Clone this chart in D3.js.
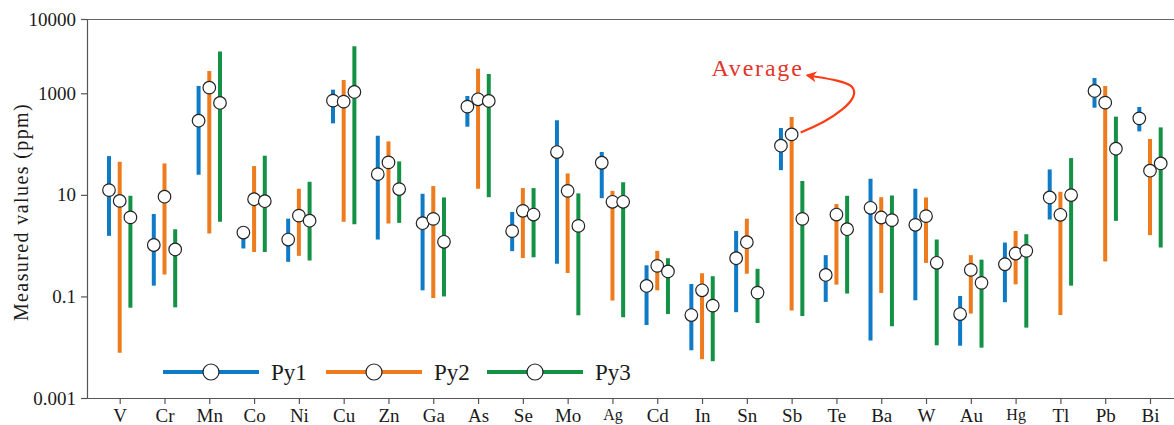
<!DOCTYPE html>
<html>
<head>
<meta charset="utf-8">
<script src="https://cdn.jsdelivr.net/npm/d3@7"></script>
<style>
  body { margin: 0; background: #fff; }
  svg { display: block; }
</style>
</head>
<body>
<div id="chart"></div>
<script>
// element categories along the x axis
var elements = ["V", "Cr", "Mn", "Co", "Ni", "Cu", "Zn", "Ga", "As", "Se", "Mo", "Ag",
                "Cd", "In", "Sn", "Sb", "Te", "Ba", "W", "Au", "Hg", "Tl", "Pb", "Bi"];

// Py1 range and average (ppm)
var py1Max = [58, 4.2, 1256, 2.0, 3.4, 1120, 146, 10.5, 886, 4.6, 293, 70,
              0.41, 0.176, 1.95, 207, 0.65, 20.7, 13.2, 0.102, 1.15, 31.7, 1608, 537];
var py1Min = [1.56, 0.163, 24.9, 0.88, 0.48, 256, 1.32, 0.132, 220, 0.78, 0.44, 8.6,
              0.0274, 0.0087, 0.049, 30.7, 0.078, 0.0136, 0.084, 0.0107, 0.077, 3.27, 521, 178];
var py1Avg = [12.4, 1.03, 289, 1.81, 1.32, 717, 25.6, 2.77, 546, 1.93, 69.7, 42.9,
              0.161, 0.043, 0.565, 92.9, 0.265, 5.56, 2.57, 0.045, 0.43, 8.9, 1075, 321];

// Py2
var py2Max = [44.9, 41.6, 1995, 36.9, 13.2, 1510, 113, 14.9, 2147, 13.6, 26.4, 12.0,
              0.79, 0.286, 3.4, 341, 6.6, 9.0, 8.9, 0.65, 1.95, 11.5, 1256, 126];
var py2Min = [0.0078, 0.27, 1.73, 0.75, 0.63, 2.94, 2.73, 0.093, 13.2, 0.57, 0.29, 0.083,
              0.132, 0.0058, 0.28, 0.053, 0.171, 0.117, 0.457, 0.046, 0.173, 0.043, 0.49, 1.61];
var py2Avg = [7.6, 9.2, 1191, 8.2, 3.9, 685, 43.6, 3.37, 762, 4.85, 12.0, 7.3,
              0.40, 0.132, 1.17, 155, 4.1, 3.58, 3.81, 0.333, 0.70, 4.05, 655, 29.9];

// Py3
var py3Max = [9.6, 2.1, 3640, 59, 18.1, 4300, 45.6, 8.9, 1820, 13.6, 10.7, 17.8,
              0.565, 0.25, 0.35, 18.7, 9.6, 9.7, 1.32, 0.53, 1.68, 53, 347, 213];
var py3Min = [0.060, 0.061, 2.94, 0.75, 0.51, 2.65, 2.81, 0.10, 9.0, 0.59, 0.0425, 0.0387,
              0.045, 0.0053, 0.030, 0.041, 0.114, 0.026, 0.0109, 0.0098, 0.0243, 0.163, 3.08, 0.92];
var py3Avg = [3.6, 0.84, 645, 7.5, 3.1, 1042, 13.0, 1.19, 706, 4.1, 2.45, 7.3,
              0.31, 0.066, 0.119, 3.37, 2.11, 3.18, 0.46, 0.185, 0.79, 9.9, 81, 41.6];

var yTicks = [0.001, 0.1, 10, 1000, 10000];
var seriesNames = ["Py1", "Py2", "Py3"];
var seriesColors = ["#0f7ac6", "#ee7b1e", "#139144"];

var series = [
    {name: seriesNames[0], min: py1Min, max: py1Max, avg: py1Avg},
    {name: seriesNames[1], min: py2Min, max: py2Max, avg: py2Avg},
    {name: seriesNames[2], min: py3Min, max: py3Max, avg: py3Avg}
];

var width = 1174, height = 425;
var plotLeft = 87, plotTop = 19, plotBottom = 398;
var font = "'Liberation Serif', 'Times New Roman', serif";

var svg = d3.select("#chart").append("svg")
    .attr("width", width)
    .attr("height", height);

// the top decade is drawn stretched in the original, so a piecewise log scale
var y = d3.scaleLog()
    .domain([0.001, 1000, 10000])
    .range([plotBottom, 93.3, plotTop]);

var x = d3.scalePoint()
    .domain(elements)
    .range([119.7, 1150]);

var offset = d3.scalePoint()
    .domain(seriesNames)
    .range([-10.7, 10.7]);

// frame line along the top
svg.append("line")
    .attr("x1", plotLeft).attr("x2", width)
    .attr("y1", plotTop + 0.5).attr("y2", plotTop + 0.5)
    .attr("stroke", "#666").attr("stroke-width", 1.2);

var yAxis = svg.append("g")
    .attr("transform", "translate(" + plotLeft + ",0)")
    .call(d3.axisLeft(y).tickValues(yTicks).tickSize(6).tickFormat(function(d) { return String(d); }));

var xAxis = svg.append("g")
    .attr("transform", "translate(0," + plotBottom + ")")
    .call(d3.axisBottom(x).tickSize(6).tickSizeOuter(0));

xAxis.select(".domain").attr("d", "M" + plotLeft + ",0.5H" + width);

[yAxis, xAxis].forEach(function(ax) {
    ax.selectAll(".domain, line").attr("stroke", "#555").attr("stroke-width", 1.2);
    ax.selectAll("text")
        .attr("font-family", font)
        .attr("font-size", "19px")
        .attr("fill", "#1a1a1a");
});
yAxis.selectAll("text").attr("dx", "-2px");
xAxis.selectAll("text").attr("dy", "0.8em");
// Ag and Hg are set in a smaller face in the original
xAxis.selectAll("text")
    .filter(function(d) { return d === "Ag" || d === "Hg"; })
    .attr("font-size", "16px");

svg.append("text")
    .attr("transform", "translate(28,212) rotate(-90)")
    .attr("text-anchor", "middle")
    .attr("font-family", font)
    .attr("font-size", "20px")
    .attr("letter-spacing", "1.4px")
    .attr("fill", "#1a1a1a")
    .text("Measured values (ppm)");

// range bars
series.forEach(function(s, k) {
    var g = svg.append("g");
    g.selectAll("line")
        .data(elements)
        .enter().append("line")
        .attr("x1", function(d) { return x(d) + offset(s.name); })
        .attr("x2", function(d) { return x(d) + offset(s.name); })
        .attr("y1", function(d, i) { return y(s.max[i]); })
        .attr("y2", function(d, i) { return y(s.min[i]); })
        .attr("stroke", seriesColors[k])
        .attr("stroke-width", 4);
});

// average markers on top
series.forEach(function(s) {
    svg.append("g").selectAll("circle")
        .data(elements)
        .enter().append("circle")
        .attr("cx", function(d) { return x(d) + offset(s.name); })
        .attr("cy", function(d, i) { return y(s.avg[i]); })
        .attr("r", 6.3)
        .attr("fill", "#fff")
        .attr("stroke", "#222")
        .attr("stroke-width", 1.2);
});

// legend
var legendX = [163, 326, 487];
var legend = svg.append("g");
series.forEach(function(s, k) {
    var lg = legend.append("g").attr("transform", "translate(" + legendX[k] + ",372)");
    lg.append("line")
        .attr("x1", 0).attr("x2", 96)
        .attr("stroke", seriesColors[k]).attr("stroke-width", 4);
    lg.append("circle")
        .attr("cx", 48).attr("r", 8)
        .attr("fill", "#fff").attr("stroke", "#222").attr("stroke-width", 1.2);
    lg.append("text")
        .attr("x", 108).attr("y", 8)
        .attr("font-family", font)
        .attr("font-size", "23px")
        .attr("fill", "#1a1a1a")
        .text(s.name);
});

// "Average" annotation pointing at the Sb Py2 marker
var sbX = x("Sb") + offset("Py2"), sbY = y(py2Avg[elements.indexOf("Sb")]);
svg.append("defs").append("marker")
    .attr("id", "arrow")
    .attr("viewBox", "0 -5 10 10")
    .attr("refX", 8)
    .attr("markerWidth", 5)
    .attr("markerHeight", 5)
    .attr("orient", "auto")
    .attr("fill", "#ff3b14")
    .append("path")
    .attr("d", "M0,-5L10,0L0,5L3,0Z");

svg.append("path")
    .attr("d", "M" + (sbX + 9) + "," + (sbY - 2) +
               " C" + (sbX + 40) + "," + (sbY - 14) + " " + (sbX + 72) + "," + (sbY - 36) + " " + (sbX + 60) + "," + (sbY - 48) +
               " C" + (sbX + 52) + "," + (sbY - 54) + " " + (sbX + 34) + "," + (sbY - 56) + " " + (sbX + 16) + "," + (sbY - 59))
    .attr("fill", "none")
    .attr("stroke", "#ff3b14")
    .attr("stroke-width", 2.2)
    .attr("marker-end", "url(#arrow)");

svg.append("text")
    .attr("x", sbX + 12)
    .attr("y", sbY - 58)
    .attr("text-anchor", "end")
    .attr("font-family", font)
    .attr("font-size", "24px")
    .attr("letter-spacing", "1.8px")
    .attr("fill", "#e2352c")
    .text("Average");
</script>
</body>
</html>
